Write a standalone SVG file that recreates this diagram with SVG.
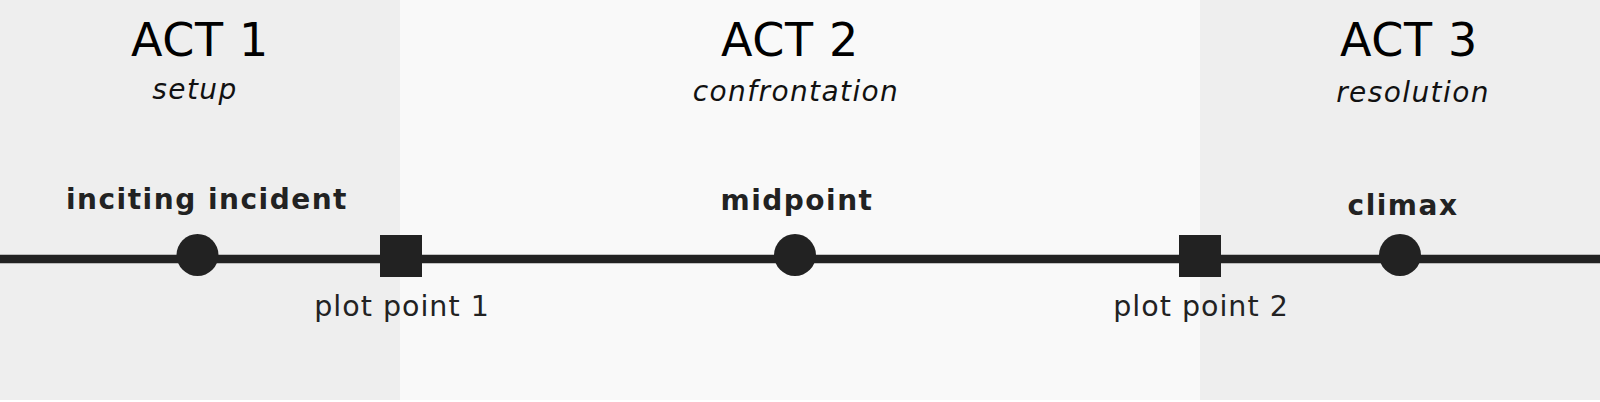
<svg xmlns="http://www.w3.org/2000/svg" width="1600" height="402" viewBox="0 0 1600 402">
<style>
.act{font-family:"DejaVu Sans",sans-serif;font-size:46px;fill:#000;text-anchor:middle;letter-spacing:0.6px}
.sub{font-family:"DejaVu Sans",sans-serif;font-size:28px;font-style:italic;fill:#111;text-anchor:middle;letter-spacing:1.4px}
.beat{font-family:"DejaVu Sans",sans-serif;font-size:28px;font-weight:bold;fill:#222;text-anchor:middle;letter-spacing:1.5px}
.pp{font-family:"DejaVu Sans",sans-serif;font-size:28.5px;fill:#222;text-anchor:middle;letter-spacing:1px}
.mark{fill:#222}
</style>
<rect x="0" y="0" width="1600" height="402" fill="#ffffff"/>
<g id="act1">
<rect x="0" y="0" width="400" height="400" fill="#eeeeee"/>
<text class="act" x="200" y="56">ACT 1</text>
<text class="sub" x="195" y="99">setup</text>
</g>
<g id="act2">
<rect x="400" y="0" width="800" height="400" fill="#f9f9f9"/>
<text class="act" x="790" y="56">ACT 2</text>
<text class="sub" x="796" y="101">confrontation</text>
</g>
<g id="act3">
<rect x="1200" y="0" width="400" height="400" fill="#eeeeee"/>
<text class="act" x="1409" y="56">ACT 3</text>
<text class="sub" x="1413" y="102">resolution</text>
</g>
<g id="connectors">
<line x1="0" y1="259" x2="1600" y2="259" stroke="#222" stroke-width="8.5"/>
</g>
<g id="inciting-incident">
<circle class="mark" cx="197.5" cy="255" r="21"/>
<text class="beat" x="207" y="209">inciting incident</text>
</g>
<g id="plot-point-1">
<rect class="mark" x="380" y="235" width="42" height="42"/>
<text class="pp" x="402" y="316">plot point 1</text>
</g>
<g id="midpoint">
<circle class="mark" cx="795" cy="255" r="21"/>
<text class="beat" x="797" y="210">midpoint</text>
</g>
<g id="plot-point-2">
<rect class="mark" x="1179" y="235" width="42" height="42"/>
<text class="pp" x="1201" y="316">plot point 2</text>
</g>
<g id="climax">
<circle class="mark" cx="1400" cy="255" r="21"/>
<text class="beat" x="1403" y="215">climax</text>
</g>
</svg>
